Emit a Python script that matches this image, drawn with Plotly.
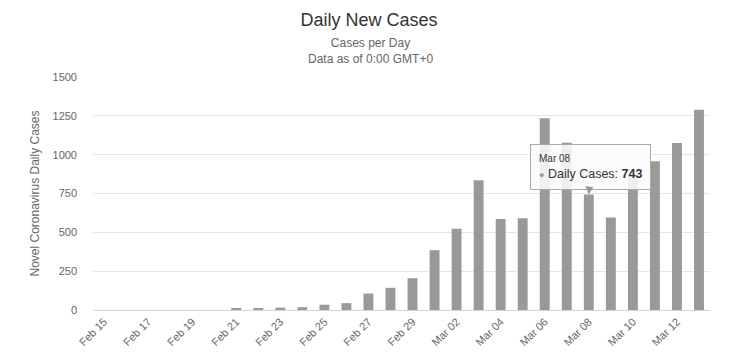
import plotly.graph_objects as go

dates = ["Feb 15", "Feb 16", "Feb 17", "Feb 18", "Feb 19", "Feb 20", "Feb 21",
         "Feb 22", "Feb 23", "Feb 24", "Feb 25", "Feb 26", "Feb 27", "Feb 28",
         "Feb 29", "Mar 01", "Mar 02", "Mar 03", "Mar 04", "Mar 05", "Mar 06",
         "Mar 07", "Mar 08", "Mar 09", "Mar 10", "Mar 11", "Mar 12", "Mar 13"]
daily_cases = [0, 0, 0, 0, 0, 0, 13, 10, 15, 18, 34, 44, 106, 143, 205, 385,
               523, 835, 586, 591, 1234, 1076, 743, 595, 881, 958, 1075, 1289]
tick_labels = dates[::2]
y_ticks = [0, 250, 500, 750, 1000, 1250, 1500]

font_family = "Liberation Sans, Arial, sans-serif"

fig = go.Figure(go.Bar(
    x=dates, y=daily_cases, marker=dict(color="#999999", line=dict(width=0)),
    name="Daily Cases",
))

hover_idx = dates.index("Mar 08")
fig.add_annotation(
    x=dates[hover_idx], y=daily_cases[hover_idx], xref="x", yref="y",
    text=("<span style='font-size:10px;color:#333'>Mar 08</span><br>"
          "<span style='color:#999;font-size:9px'>●</span> Daily Cases: <b>743</b>"),
    align="left", showarrow=True, ax=2, ay=-28, arrowhead=2, arrowsize=1.6,
    arrowwidth=1, arrowcolor="#999", standoff=0,
    bgcolor="rgba(250,250,250,0.88)", bordercolor="#aaa", borderwidth=1, borderpad=8,
    font=dict(family=font_family, size=12.5, color="#333"),
)

fig.update_layout(
    width=746, height=355,
    margin=dict(l=85, r=44, t=69, b=53),
    paper_bgcolor="white", plot_bgcolor="white",
    font=dict(family=font_family, color="#666"),
    title=dict(text="Daily New Cases", x=0.484, xref="container", xanchor="center",
               y=0.966, yanchor="middle", font=dict(size=18, color="#333")),
    showlegend=False,
    bargap=0.55,
    xaxis=dict(
        type="category", tickmode="array", tickvals=tick_labels, ticktext=tick_labels,
        tickangle=-45, tickfont=dict(size=11, color="#666"),
        showgrid=False, showline=True, linecolor="#ccd6eb", linewidth=1,
        ticks="", range=[-0.5, len(dates) - 0.5],
    ),
    yaxis=dict(
        range=[0, 1500], tickmode="array", tickvals=y_ticks,
        tickfont=dict(size=11, color="#666"), gridcolor="#e6e6e6",
        zeroline=False, showline=False, ticks="", ticklabelstandoff=15,
        title=dict(text="Novel Coronavirus Daily Cases", font=dict(size=12, color="#666"),
                   standoff=10),
    ),
)

fig.add_annotation(
    text="Cases per Day<br>Data as of 0:00 GMT+0", xref="paper", yref="paper",
    x=0.449, y=1.112, xanchor="center", yanchor="middle", showarrow=False,
    font=dict(size=12, color="#666"),
)

fig.write_html("out.html")
